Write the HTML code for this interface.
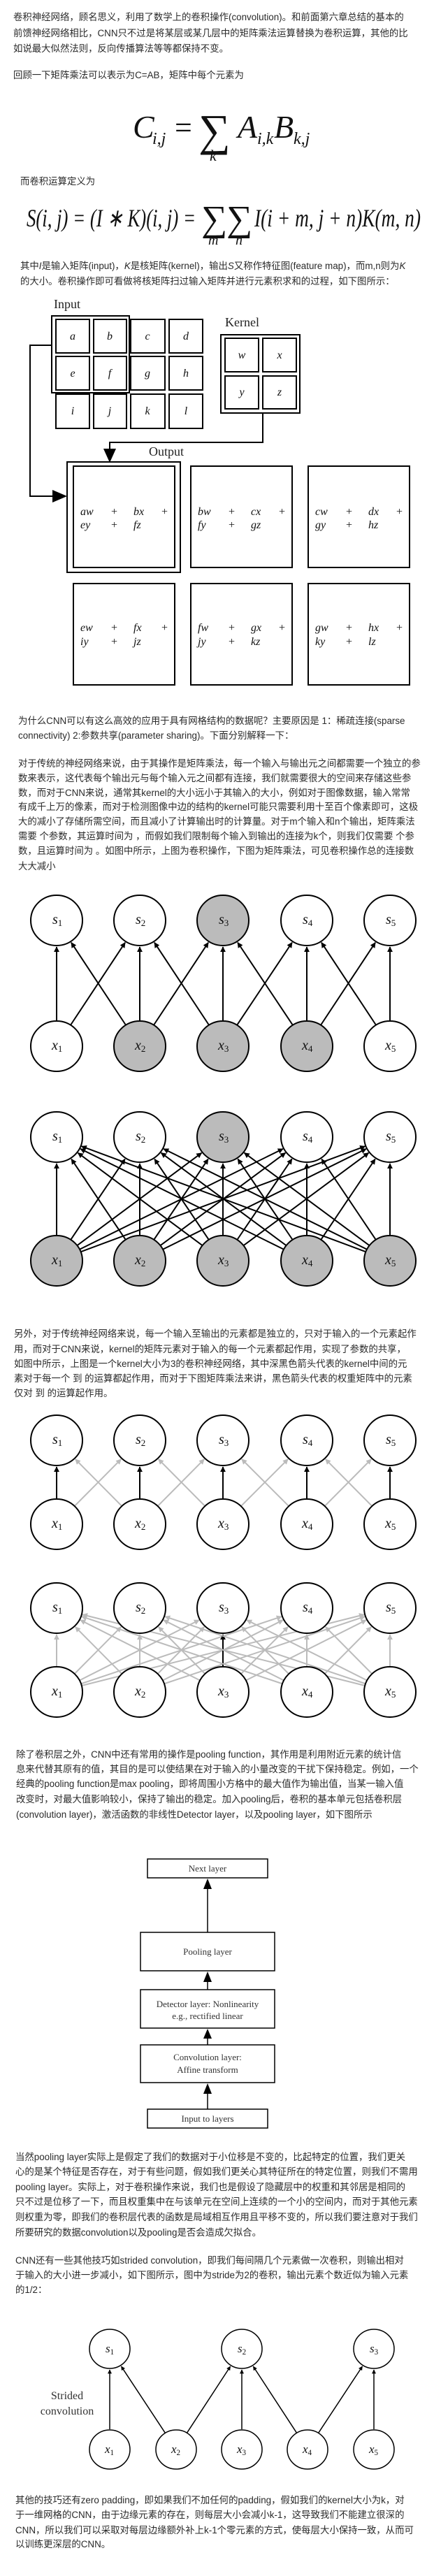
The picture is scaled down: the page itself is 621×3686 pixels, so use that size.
<!DOCTYPE html>
<html><head><meta charset="utf-8">
<style>
html,body{margin:0;padding:0;background:#fff;}
body{width:621px;height:3686px;position:relative;overflow:hidden;font-family:"Liberation Sans","Noto Sans CJK SC",sans-serif;color:#2a2a2a;}
.l{position:absolute;white-space:nowrap;font-size:13.4px;line-height:20px;height:20px;}
svg{position:absolute;left:0;top:0;}
.m{font-family:"Liberation Serif",serif;font-style:italic;}
</style></head><body>

<div class="l" style="left:19px;top:15px">卷积神经网络，顾名思义，利用了数学上的卷积操作(convolution)。和前面第六章总结的基本的</div>
<div class="l" style="left:19px;top:38px">前馈神经网络相比，CNN只不过是将某层或某几层中的矩阵乘法运算替换为卷积运算，其他的比</div>
<div class="l" style="left:19px;top:60px">如说最大似然法则，反向传播算法等等都保持不变。</div>
<div class="l" style="left:19px;top:98px">回顾一下矩阵乘法可以表示为C=AB，矩阵中每个元素为</div>
<div class="l" style="left:29px;top:250px">而卷积运算定义为</div>
<div class="l" style="left:29px;top:371px">其中<i>I</i>是输入矩阵(input)，<i>K</i>是核矩阵(kernel)，输出<i>S</i>又称作特征图(feature map)，而m,n则为<i>K</i></div>
<div class="l" style="left:29px;top:393px">的大小。卷积操作即可看做将核矩阵扫过输入矩阵并进行元素积求和的过程，如下图所示：</div>

<div class="l" style="left:26px;top:1022px">为什么CNN可以有这么高效的应用于具有网格结构的数据呢？主要原因是 1：稀疏连接(sparse</div>
<div class="l" style="left:26px;top:1043px">connectivity) 2:参数共享(parameter sharing)。下面分别解释一下：</div>
<div class="l" style="left:26px;top:1083px">对于传统的神经网络来说，由于其操作是矩阵乘法，每一个输入与输出元之间都需要一个独立的参</div>
<div class="l" style="left:26px;top:1104px">数来表示，这代表每个输出元与每个输入元之间都有连接，我们就需要很大的空间来存储这些参</div>
<div class="l" style="left:26px;top:1125px">数，而对于CNN来说，通常其kernel的大小远小于其输入的大小，例如对于图像数据，输入常常</div>
<div class="l" style="left:26px;top:1145px">有成千上万的像素，而对于检测图像中边的结构的kernel可能只需要利用十至百个像素即可，这极</div>
<div class="l" style="left:26px;top:1166px">大的减小了存储所需空间，而且减小了计算输出时的计算量。对于m个输入和n个输出，矩阵乘法</div>
<div class="l" style="left:26px;top:1187px">需要 个参数，其运算时间为 ，而假如我们限制每个输入到输出的连接为k个，则我们仅需要 个参</div>
<div class="l" style="left:26px;top:1208px">数，且运算时间为 。如图中所示，上图为卷积操作，下图为矩阵乘法，可见卷积操作总的连接数</div>
<div class="l" style="left:26px;top:1230px">大大减小</div>

<div class="l" style="left:20px;top:1899px">另外，对于传统神经网络来说，每一个输入至输出的元素都是独立的，只对于输入的一个元素起作</div>
<div class="l" style="left:20px;top:1921px">用，而对于CNN来说，kernel的矩阵元素对于输入的每一个元素都起作用，实现了参数的共享，</div>
<div class="l" style="left:20px;top:1942px">如图中所示，上图是一个kernel大小为3的卷积神经网络，其中深黑色箭头代表的kernel中间的元</div>
<div class="l" style="left:20px;top:1963px">素对于每一个 到 的运算都起作用，而对于下图矩阵乘法来讲，黑色箭头代表的权重矩阵中的元素</div>
<div class="l" style="left:20px;top:1984px">仅对 到 的运算起作用。</div>

<div class="l" style="left:23px;top:2501px">除了卷积层之外，CNN中还有常用的操作是pooling function，其作用是利用附近元素的统计信</div>
<div class="l" style="left:23px;top:2522px">息来代替其原有的值，其目的是可以使结果在对于输入的小量改变的干扰下保持稳定。例如，一个</div>
<div class="l" style="left:23px;top:2543px">经典的pooling function是max pooling，即将周围小方格中的最大值作为输出值，当某一输入值</div>
<div class="l" style="left:23px;top:2565px">改变时，对最大值影响较小，保持了输出的稳定。加入pooling后，卷积的基本单元包括卷积层</div>
<div class="l" style="left:23px;top:2587px">(convolution layer)，激活函数的非线性Detector layer，以及pooling layer，如下图所示</div>

<div class="l" style="left:22px;top:3077px">当然pooling layer实际上是假定了我们的数据对于小位移是不变的，比起特定的位置，我们更关</div>
<div class="l" style="left:22px;top:3098px">心的是某个特征是否存在，对于有些问题，假如我们更关心其特征所在的特定位置，则我们不需用</div>
<div class="l" style="left:22px;top:3120px">pooling layer。实际上，对于卷积操作来说，我们也是假设了隐藏层中的权重和其邻居是相同的</div>
<div class="l" style="left:22px;top:3141px">只不过是位移了一下，而且权重集中在与该单元在空间上连续的一个小的空间内，而对于其他元素</div>
<div class="l" style="left:22px;top:3163px">则权重为零，即我们的卷积层代表的函数是局域相互作用且平移不变的，所以我们要注意对于我们</div>
<div class="l" style="left:22px;top:3185px">所要研究的数据convolution以及pooling是否会造成欠拟合。</div>
<div class="l" style="left:22px;top:3225px">CNN还有一些其他技巧如strided convolution，即我们每间隔几个元素做一次卷积，则输出相对</div>
<div class="l" style="left:22px;top:3246px">于输入的大小进一步减小，如下图所示，图中为stride为2的卷积，输出元素个数近似为输入元素</div>
<div class="l" style="left:22px;top:3267px">的1/2：</div>
<div class="l" style="left:22px;top:3568px">其他的技巧还有zero padding，即如果我们不加任何的padding，假如我们的kernel大小为k，对</div>
<div class="l" style="left:22px;top:3589px">于一维网格的CNN，由于边缘元素的存在，则每层大小会减小k-1，这导致我们不能建立很深的</div>
<div class="l" style="left:22px;top:3611px">CNN，所以我们可以采取对每层边缘额外补上k-1个零元素的方式，使每层大小保持一致，从而可</div>
<div class="l" style="left:22px;top:3631px">以训练更深层的CNN。</div>

<svg id="sv" width="621" height="3686" viewBox="0 0 621 3686" xmlns="http://www.w3.org/2000/svg" font-family="Liberation Serif, serif">
<defs>
<marker id="ab" viewBox="0 0 10 10" refX="9" refY="5" markerWidth="4" markerHeight="4" orient="auto"><path d="M0,0L10,5L0,10z" fill="#000"/></marker>
<marker id="ag" viewBox="0 0 10 10" refX="9" refY="5" markerWidth="4" markerHeight="4" orient="auto"><path d="M0,0L10,5L0,10z" fill="#bbb"/></marker>
<marker id="abig" viewBox="0 0 10 10" refX="9" refY="5" markerWidth="6" markerHeight="6" orient="auto"><path d="M0,0L10,5L0,10z" fill="#000"/></marker>
</defs>

<!-- formula C -->
<g font-style="italic" fill="#111">
<text x="190" y="197" font-size="46">C</text>
<text x="218" y="206" font-size="24">i,j</text>
<text x="250" y="197" font-size="44" font-style="normal">=</text>
<text x="284" y="208" font-size="64" font-style="normal">∑</text>
<text x="300" y="230" font-size="22">k</text>
<text x="340" y="197" font-size="46">A</text>
<text x="368" y="206" font-size="24">i,k</text>
<text x="392" y="197" font-size="46">B</text>
<text x="420" y="206" font-size="24">k,j</text>
</g>
<!-- formula S -->
<g font-style="italic" fill="#111">
<text x="38" y="324" font-size="36" textLength="242" lengthAdjust="spacingAndGlyphs">S(i, j) = (I ∗ K)(i, j) =</text>
<text x="288" y="330" font-size="52" font-style="normal">∑</text>
<text x="324" y="330" font-size="52" font-style="normal">∑</text>
<text x="298" y="350" font-size="20">m</text>
<text x="337" y="350" font-size="20">n</text>
<text x="364" y="324" font-size="36" textLength="238" lengthAdjust="spacingAndGlyphs">I(i + m, j + n)K(m, n)</text>
</g>

<!-- conv matrix figure -->
<g fill="none" stroke="#000" stroke-width="2">
<rect x="74" y="452" width="111" height="110"/>
<rect x="80" y="457" width="48" height="48"/><rect x="134" y="457" width="47" height="48"/><rect x="187" y="457" width="49" height="48"/><rect x="242" y="457" width="48" height="48"/>
<rect x="80" y="510" width="48" height="48"/><rect x="134" y="510" width="47" height="48"/><rect x="187" y="510" width="49" height="48"/><rect x="242" y="510" width="48" height="48"/>
<rect x="80" y="564" width="48" height="49"/><rect x="134" y="564" width="47" height="49"/><rect x="187" y="564" width="49" height="49"/><rect x="242" y="564" width="48" height="49"/>
<rect x="316" y="479" width="113" height="112"/>
<rect x="322" y="484" width="48" height="48"/><rect x="376" y="484" width="48" height="48"/>
<rect x="322" y="538" width="48" height="47"/><rect x="376" y="538" width="48" height="47"/>
<polyline points="74,494 43,494 43,710 84,710"/>
<polyline points="376,591 376,633 157,633 157,648"/>
<rect x="96" y="661" width="162" height="158"/>
<rect x="105" y="667" width="145" height="145"/><rect x="273" y="667" width="145" height="145"/><rect x="441" y="667" width="145" height="145"/>
<rect x="105" y="835" width="145" height="145"/><rect x="273" y="835" width="145" height="145"/><rect x="441" y="835" width="145" height="145"/>
</g>
<path d="M96,710 L75,701 L75,719z" fill="#000"/>
<path d="M157,662 L148,642 L166,642z" fill="#000"/>
<g font-size="18" fill="#222">
<text x="77" y="441">Input</text><text x="322" y="467">Kernel</text><text x="213" y="652">Output</text>
</g>
<g font-size="16" font-style="italic" text-anchor="middle" fill="#111">
<text x="104" y="486">a</text><text x="157" y="486">b</text><text x="211" y="486">c</text><text x="266" y="486">d</text>
<text x="104" y="539">e</text><text x="157" y="539">f</text><text x="211" y="539">g</text><text x="266" y="539">h</text>
<text x="104" y="593">i</text><text x="157" y="593">j</text><text x="211" y="593">k</text><text x="266" y="593">l</text>
<text x="346" y="513">w</text><text x="400" y="513">x</text><text x="346" y="566">y</text><text x="400" y="566">z</text>
</g>
<g font-size="16" font-style="italic" fill="#111" id="outtxt"></g>

<!-- pooling stack -->
<g fill="none" stroke="#000" stroke-width="1.5">
<rect x="211" y="2660" width="172" height="27"/>
<rect x="201" y="2765" width="192" height="55"/>
<rect x="201" y="2847" width="192" height="55"/>
<rect x="201" y="2926" width="192" height="54"/>
<rect x="211" y="3018" width="172" height="27"/>
<line x1="297" y1="2765" x2="297" y2="2700"/>
<line x1="297" y1="2847" x2="297" y2="2834"/>
<line x1="297" y1="2926" x2="297" y2="2914"/>
<line x1="297" y1="3018" x2="297" y2="2994"/>
</g>
<g fill="#000">
<path d="M297,2688 L291,2703 L303,2703z"/><path d="M297,2821 L291,2836 L303,2836z"/>
<path d="M297,2903 L291,2917 L303,2917z"/><path d="M297,2981 L291,2996 L303,2996z"/>
</g>
<g font-size="13" text-anchor="middle" fill="#333">
<text x="297" y="2678">Next layer</text>
<text x="297" y="2797">Pooling layer</text>
<text x="297" y="2872">Detector layer: Nonlinearity</text>
<text x="297" y="2889">e.g., rectified linear</text>
<text x="297" y="2948">Convolution layer:</text>
<text x="297" y="2966">Affine transform</text>
<text x="297" y="3036">Input to layers</text>
<text x="96" y="3433" font-size="16">Strided</text>
<text x="96" y="3455" font-size="16">convolution</text>
</g>
<g id="graphs"></g>
</svg>

<script>
(function(){
var NS="http://www.w3.org/2000/svg";
function el(p,t,a,txt){var e=document.createElementNS(NS,t);for(var k in a)e.setAttribute(k,a[k]);if(txt!==undefined)e.textContent=txt;p.appendChild(e);return e;}
var ot=document.getElementById('outtxt');
var rows=[[732,751],[898,918]];
var data=[[["aw","bx","ey","fz"],["bw","cx","fy","gz"],["cw","dx","gy","hz"]],[["ew","fx","iy","jz"],["fw","gx","jy","kz"],["gw","hx","ky","lz"]]];
var bx=[105,273,441];
for(var r=0;r<2;r++)for(var c=0;c<3;c++){var d=data[r][c],x=bx[c],y1=rows[r][0]+5,y2=rows[r][1]+5;
el(ot,'text',{x:x+10,y:y1},d[0]);el(ot,'text',{x:x+54,y:y1,'font-style':'normal'},'+');el(ot,'text',{x:x+86,y:y1},d[1]);el(ot,'text',{x:x+126,y:y1,'font-style':'normal'},'+');
el(ot,'text',{x:x+10,y:y2},d[2]);el(ot,'text',{x:x+54,y:y2,'font-style':'normal'},'+');el(ot,'text',{x:x+86,y:y2},d[3]);}
var g=document.getElementById('graphs');
var X=[81,200,319,439,558];
function graph(yT,yB,xs,ss,edges,sFill,xFill,r,sw,labSize){
 // edges: [i,j,color]
 edges.forEach(function(e){var x1=xs[e[0]],x2=ss[e[1]];var dx=x2-x1,dy=yT-yB,L=Math.sqrt(dx*dx+dy*dy);var ux=dx/L,uy=dy/L;
  var gray=e[2]=='g';
  el(g,'line',{x1:x1+ux*r,y1:yB+uy*r,x2:x2-ux*(r+1),y2:yT-uy*(r+1),stroke:gray?'#bbb':'#000','stroke-width':sw,'marker-end':gray?'url(#ag)':'url(#ab)'});});
 ss.forEach(function(x,i){el(g,'ellipse',{cx:x,cy:yT,rx:r,ry:r-1,fill:sFill[i]?'#bbb':'#fff',stroke:'#000','stroke-width':sw});
  var t=el(g,'text',{x:x-6,y:yT+5,'font-size':labSize,'font-style':'italic',fill:'#111'},'s');el(t,'tspan',{'font-size':labSize*0.65,dy:3,'font-style':'normal'},String(i+1));});
 xs.forEach(function(x,i){el(g,'ellipse',{cx:x,cy:yB,rx:r,ry:r-1,fill:xFill[i]?'#bbb':'#fff',stroke:'#000','stroke-width':sw});
  var t=el(g,'text',{x:x-7,y:yB+5,'font-size':labSize,'font-style':'italic',fill:'#111'},'x');el(t,'tspan',{'font-size':labSize*0.65,dy:3,'font-style':'normal'},String(i+1));});
}
function sparse(col){var E=[];for(var i=0;i<5;i++)for(var j=i-1;j<=i+1;j++)if(j>=0&&j<5)E.push([i,j,col(i,j)]);return E;}
function full(col){var E=[];for(var i=0;i<5;i++)for(var j=0;j<5;j++)E.push([i,j,col(i,j)]);return E;}
graph(1317,1497,X,X,sparse(function(){return 'b';}),[0,0,1,0,0],[0,1,1,1,0],37,2,20);
graph(1627,1804,X,X,full(function(){return 'b';}),[0,0,1,0,0],[1,1,1,1,1],37,2,20);
graph(2061,2181,X,X,sparse(function(i,j){return i==j?'b':'g';}),[0,0,0,0,0],[0,0,0,0,0],37,2,20);
graph(2301,2421,X,X,full(function(i,j){return (i==2&&j==2)?'b':'g';}),[0,0,0,0,0],[0,0,0,0,0],37,2,20);
graph(3361,3505,[157,252,346,440,535],[157,346,535],[[0,0],[1,0],[1,1],[2,1],[3,1],[3,2],[4,2]],[0,0,0],[0,0,0,0,0],29,1.5,17);
})();
</script>
</body></html>
